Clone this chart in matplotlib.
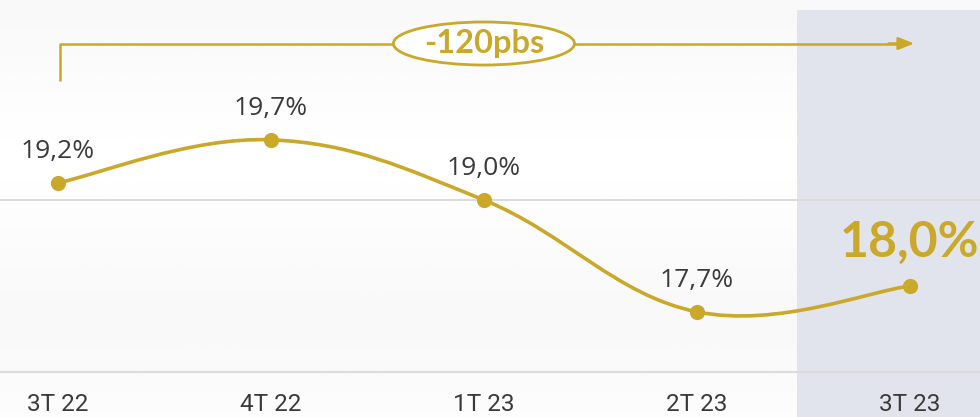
import numpy as np
import matplotlib
matplotlib.use("Agg")
from matplotlib import pyplot as plt
from matplotlib.path import Path
from matplotlib.patches import PathPatch, Ellipse, Rectangle

# Data
quarters = ["3T 22", "4T 22", "1T 23", "2T 23", "3T 23"]
values = [19.2, 19.7, 19.0, 17.7, 18.0]
labels = ["19,2%", "19,7%", "19,0%", "17,7%", "18,0%"]
change_label = "-120pbs"

GOLD = "#c9a82a"
GRAY_TXT = "#3a3a3a"


def smooth_path(xs, ys, k=0.19):
    # Catmull-Rom style spline turned into cubic bezier segments
    pts = np.column_stack([xs, ys]).astype(float)
    ext = np.vstack([pts[0], pts, pts[-1]])
    verts = [pts[0]]
    codes = [Path.MOVETO]
    for i in range(1, len(ext) - 2):
        p0, p1, p2, p3 = ext[i - 1], ext[i], ext[i + 1], ext[i + 2]
        c1 = p1 + (p2 - p0) * k
        c2 = p2 - (p3 - p1) * k
        verts += [c1, c2, p2]
        codes += [Path.CURVE4] * 3
    return Path(verts, codes)


fig = plt.figure(figsize=(9.8, 4.17), dpi=100)
ax = fig.add_axes([0, 0, 1, 1])
x = np.arange(len(quarters))
ax.set_xlim(-0.272, 4.329)
ax.set_ylim(16.477, 21.326)
ax.axis("off")

# soft light background
grad = np.linspace(0, 1, 256)
bg = 0.975 + 0.022 * np.outer(np.sin(grad * np.pi * 1.3) ** 2, np.ones(256))
ax.imshow(bg, cmap="gray", vmin=0, vmax=1, extent=[-0.272, 4.329, 16.477, 21.326],
          aspect="auto", zorder=0)

# highlighted last quarter
ax.add_patch(Rectangle((3.47, 16.3), 1.0, 21.21 - 16.3, color="#e1e4ec", zorder=1, lw=0))

# grid lines
for gy in (17.0, 19.0):
    ax.axhline(gy, color="#dcdcdc", lw=1.5, zorder=2)

# line and markers
ax.add_patch(PathPatch(smooth_path(x, values), fill=False, edgecolor=GOLD, lw=2.6,
                       capstyle="round", zorder=3))
ax.scatter(x, values, s=120, color=GOLD, zorder=4, linewidths=0)

# value labels
for i in range(len(values) - 1):
    ax.annotate(labels[i], (x[i], values[i]), xytext=(0, 22.5), textcoords="offset points",
                ha="center", va="center", fontsize=19, color=GRAY_TXT, family="Open Sans")
ax.annotate(labels[-1], (x[-1], values[-1]), xytext=(0, 31.5), textcoords="offset points",
            ha="center", va="center", fontsize=36, color=GOLD, family="Lato",
            fontweight="bold")

# category labels
for i, q in enumerate(quarters):
    ax.text(x[i], 16.62, q, ha="center", va="center", fontsize=17.5, color=GRAY_TXT,
            family="Roboto")

# bracket with arrow
y_top = 20.82
ax.plot([x[0] + 0.01, x[0] + 0.01, 3.95], [20.38, y_top, y_top], color=GOLD, lw=1.8,
        zorder=3, solid_capstyle="butt")
ax.annotate("", xy=(4.02, y_top), xytext=(3.9, y_top),
            arrowprops=dict(arrowstyle="-|>,head_width=0.38,head_length=0.95", color=GOLD,
                            lw=1.8, shrinkA=0, shrinkB=0),
            zorder=3)
ax.add_patch(Ellipse((2.0, y_top), 0.85, 0.5, facecolor="white", edgecolor=GOLD, lw=2.0,
                     zorder=5))
ax.text(2.0, y_top, change_label, ha="center", va="center", fontsize=23.5, color=GOLD,
        family="Lato", fontweight="bold", zorder=6)

fig.savefig("out.png", dpi=100)
